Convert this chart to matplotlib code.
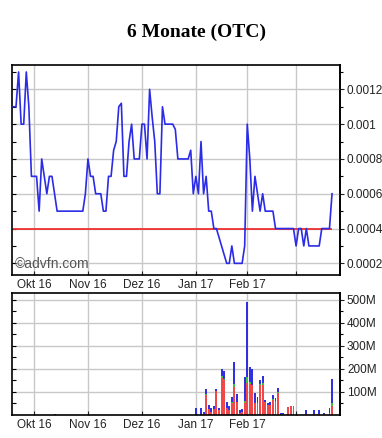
import numpy as np
import pandas as pd
import matplotlib
matplotlib.use("Agg")
import matplotlib.pyplot as plt
from matplotlib.ticker import FixedLocator, FuncFormatter

# trading days shown (US OTC calendar)
start, end = "2016-09-21", "2017-03-21"
holidays = ["2016-11-24", "2016-12-26", "2017-01-02", "2017-01-16", "2017-02-20"]

# closing price, in units of 0.0001
price_e4 = [11, 11, 13, 10, 10, 13, 11, 7, 7, 7,
            5, 8, 7, 6, 7, 7, 6, 5, 5, 5,
            5, 5, 5, 5, 5, 5, 5, 5, 6, 8,
            7, 7, 6, 6, 6, 5, 5, 7, 7, 8.5,
            9, 11, 11.2, 7, 7, 9, 10, 8, 8, 8,
            10, 10, 8, 12, 10.4, 9, 6, 6, 11, 10,
            10, 10, 10, 9.7, 8, 8, 8, 8, 8, 8.5,
            6, 7, 6, 9, 6, 7, 5, 5, 4, 4,
            3.5, 3, 2.5, 2, 2, 3, 2, 2, 2, 2,
            3, 10, 8, 5, 7, 6, 5, 6, 5, 5,
            5, 5, 4, 4, 4, 4, 4, 4, 4, 4,
            3, 4, 4, 3, 4, 3, 3, 3, 3, 3,
            4, 4, 4, 4, 6]
ref_price = 0.0004
price_ticks = [0.0002, 0.0004, 0.0006, 0.0008, 0.001, 0.0012]

# volume (millions) per trading day index: red / green / blue parts
vol_day = [16, 71, 73, 74, 75, 76, 77, 78, 79, 80, 81, 82, 83, 84, 85, 86, 87, 88, 89,
           90, 91, 92, 93, 94, 95, 96, 97, 98, 99, 100, 101, 102, 103, 104, 105,
           107, 108, 109, 114, 117, 119, 121, 123, 124]
vol_red = [0, 0, 0, 3, 87, 25, 15, 25, 105, 20, 160, 150, 30, 20, 50, 123, 55, 10, 15,
           54, 140, 135, 130, 50, 50, 130, 130, 55, 45, 45, 65, 60, 97, 0, 0,
           33, 38, 38, 5, 5, 5, 3, 8, 38]
vol_green = [0, 0, 0, 0, 5, 0, 0, 0, 0, 0, 10, 8, 0, 0, 5, 10, 0, 0, 0,
             5, 25, 10, 0, 0, 0, 5, 8, 0, 0, 0, 5, 0, 5, 6, 6,
             0, 0, 0, 0, 0, 0, 0, 0, 12]
vol_blue = [4, 29, 29, 10, 20, 18, 14, 14, 7, 9, 29, 34, 25, 19, 22, 96, 35, 12, 10,
            105, 328, 65, 70, 44, 27, 17, 30, 10, 9, 13, 17, 12, 14, 4, 4,
            0, 0, 0, 15, 15, 15, 7, 21, 105]
vol_ticks = [100e6, 200e6, 300e6, 400e6, 500e6]

month_labels = ["Okt 16", "Nov 16", "Dez 16", "Jan 17", "Feb 17", ""]

days = pd.bdate_range(start, end)
days = days[~days.isin(pd.to_datetime(holidays))]
x = np.arange(len(days))
price = np.array(price_e4) * 1e-4
month_pos = [i for i in range(1, len(days)) if days[i].month != days[i - 1].month]

W, H = 382, 438
fig = plt.figure(figsize=(W / 100, H / 100), dpi=100)
plt.rcParams["font.family"] = ["Liberation Sans", "DejaVu Sans"]
tick_color = "#222222"
grid_color = "#c8c8c8"

fig.text(197 / W, 1 - 32 / H, "6 Monate (OTC)", ha="center", va="center",
         fontsize=14, fontweight="bold", family=["Liberation Serif", "DejaVu Serif"])

def px_axes(left, top, right, bottom):
    return fig.add_axes([left / W, 1 - bottom / H, (right - left) / W, (bottom - top) / H])

xlim = (-0.56, 127.1)

def style(ax, major, minor, fmt):
    ax.set_xlim(*xlim)
    ax.set_xticks(month_pos)
    ax.set_xticklabels(month_labels)
    ax.tick_params(axis="x", direction="in", length=3, width=0.8, pad=3,
                   labelsize=8.5, colors=tick_color)
    ax.yaxis.set_major_locator(FixedLocator(major))
    ax.yaxis.set_minor_locator(FixedLocator(minor))
    ax.tick_params(axis="y", which="both", direction="in", left=True, right=False,
                   labelleft=False, length=3, width=0.8)
    ax.grid(True, axis="x", color=grid_color, lw=1)
    ax.grid(True, axis="y", which="major", color=grid_color, lw=1)
    for s in ax.spines.values():
        s.set_linewidth(1.2)
        s.set_color("black")
    sec = ax.secondary_yaxis("right")
    sec.yaxis.set_major_locator(FixedLocator(major))
    sec.yaxis.set_minor_locator(FixedLocator(minor))
    sec.yaxis.set_major_formatter(FuncFormatter(fmt))
    sec.tick_params(axis="y", which="major", direction="out", length=3, width=0.8,
                    pad=2, labelsize=8.5, colors=tick_color)
    sec.tick_params(axis="y", which="minor", direction="out", length=2, width=0.8)
    sec.spines["right"].set_linewidth(1.2)
    ax.set_axisbelow(True)
    return sec

# price panel
ax = px_axes(12, 65, 340, 275)
ax.set_ylim(0.000133, 0.00134)
price_minor = [t - 0.0001 for t in price_ticks] + [0.0013]
style(ax, price_ticks, price_minor, lambda v, p: f"{v:.4f}".rstrip("0"))
ax.hlines(ref_price, x[0], x[-1], color="#ee3030", lw=1.3, zorder=2)
ax.plot(x, price, color="#2b2be8", lw=1.2, zorder=3)
ax.text(0.009, 0.052, "\u00a9advfn.com", transform=ax.transAxes, ha="left", va="center",
        fontsize=10, color="#555555", zorder=4)

# volume panel
axv = px_axes(12, 293, 340, 415)
axv.set_ylim(0, 530e6)
vol_minor = [t - 50e6 for t in vol_ticks]
style(axv, vol_ticks, vol_minor, lambda v, p: f"{int(round(v / 1e6))}M")
r = np.array(vol_red) * 1e6
g = np.array(vol_green) * 1e6
b = np.array(vol_blue) * 1e6
bw = 0.75
axv.bar(vol_day, r, width=bw, color="#f04848", zorder=2)
axv.bar(vol_day, g, bottom=r, width=bw, color="#40c040", zorder=2)
axv.bar(vol_day, b, bottom=r + g, width=bw, color="#3030e0", zorder=2)

fig.savefig("out.png", dpi=100, facecolor="white")
